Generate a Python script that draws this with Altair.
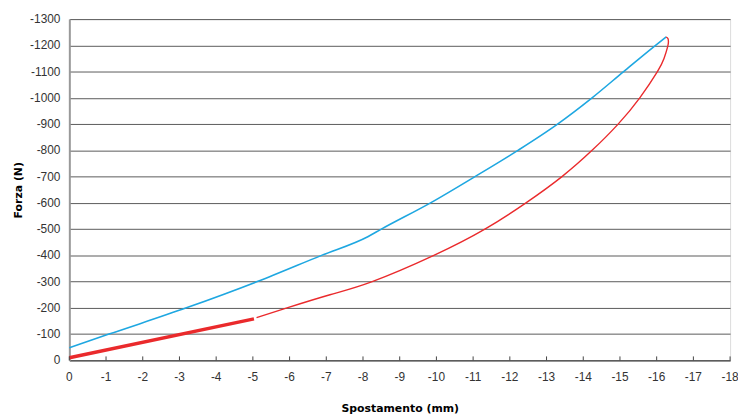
import altair as alt
import pandas as pd

# Blue curve (loading)
blue_x = [0, -1.08, -3.19, -5.12, -6.87, -8.13, -8.5, -9.84, -11.05, -12.22, -13.3, -14.24, -15.1, -15.97, -16.26]
blue_y = [-48, -100, -200, -300, -400, -471, -500, -600, -700, -800, -900, -1000, -1100, -1200, -1232]

# Red curve thin (unloading)
red_x = [-16.26, -16.31, -16.32, -16.3, -16.2, -16.02, -15.54, -14.95, -14.24, -13.42, -12.44, -11.32, -9.93, -8.25, -7.1, -5.93, -5.1]
red_y = [-1232, -1225, -1213, -1195, -1150, -1100, -1000, -900, -800, -700, -600, -500, -400, -300, -250, -200, -163]

# Red thick segment
thick_x = [-5.03, 0]
thick_y = [-158, -10]

x_ticks = list(range(0, -19, -1))
y_ticks = list(range(0, -1301, -100))

W, H = 668, 345

df_blue = pd.DataFrame({"x": blue_x, "y": blue_y, "o": range(len(blue_x))})
df_red = pd.DataFrame({"x": red_x, "y": red_y, "o": range(len(red_x))})
df_thick = pd.DataFrame({"x": thick_x, "y": thick_y, "o": range(len(thick_x))})
df_xt = pd.DataFrame({"x": x_ticks, "t": [str(v) for v in x_ticks]})
df_yt = pd.DataFrame({"y": y_ticks, "t": [str(v) for v in y_ticks]})

xs = alt.Scale(domain=[-18, 0], reverse=True, nice=False)
ys = alt.Scale(domain=[-1300, 0], reverse=True, nice=False)

xaxis = alt.Axis(values=x_ticks, grid=False, ticks=False, labels=False, domainColor="#444",
                 titleFont="DejaVu Sans", titleFontSize=11,
                 titleFontWeight="bold", titleColor="#000", titlePadding=43)
yaxis = alt.Axis(values=y_ticks, grid=True, gridColor="#5a5a5a", gridWidth=1,
                 ticks=False, labels=False, domainColor="#999", domainWidth=2,
                 titleFont="DejaVu Sans", titleFontSize=11,
                 titleFontWeight="bold", titleColor="#000", titlePadding=46)

xenc = alt.X("x:Q", scale=xs, title="Spostamento (mm)", axis=xaxis)
yenc = alt.Y("y:Q", scale=ys, title="Forza (N)", axis=yaxis)

blue = alt.Chart(df_blue).mark_line(color="#1ea7e1", strokeWidth=1.6, interpolate="monotone").encode(
    x=xenc, y=yenc, order="o:Q")
red = alt.Chart(df_red).mark_line(color="#ea2a2c", strokeWidth=1.4, interpolate="natural").encode(
    x=xenc, y=yenc, order="o:Q")
thick = alt.Chart(df_thick).mark_line(color="#ea2a2c", strokeWidth=3.5).encode(
    x=xenc, y=yenc, order="o:Q")
xticks = alt.Chart(df_xt).mark_rule(color="#444", strokeWidth=1).encode(
    x=xenc, y=alt.value(H - 4), y2=alt.value(H))
xlabels = alt.Chart(df_xt).mark_text(
    font="Liberation Sans", fontSize=12, color="#333", align="center", baseline="middle"
).encode(x=xenc, y=alt.value(H + 17), text="t:N")
ylabels = alt.Chart(df_yt).mark_text(
    font="Liberation Sans", fontSize=12, color="#333", align="right", baseline="middle"
).encode(y=yenc, x=alt.value(-9), text="t:N")

chart = (blue + red + thick + xticks + xlabels + ylabels).properties(
    width=W, height=H,
    autosize=alt.AutoSizeParams(type="none"),
    padding={"left": 62, "top": 9, "right": 8, "bottom": 52},
).configure_view(stroke="#555", strokeWidth=1).configure(background="white")

chart.save("out.html", embed_options={"renderer": "svg", "actions": False})
